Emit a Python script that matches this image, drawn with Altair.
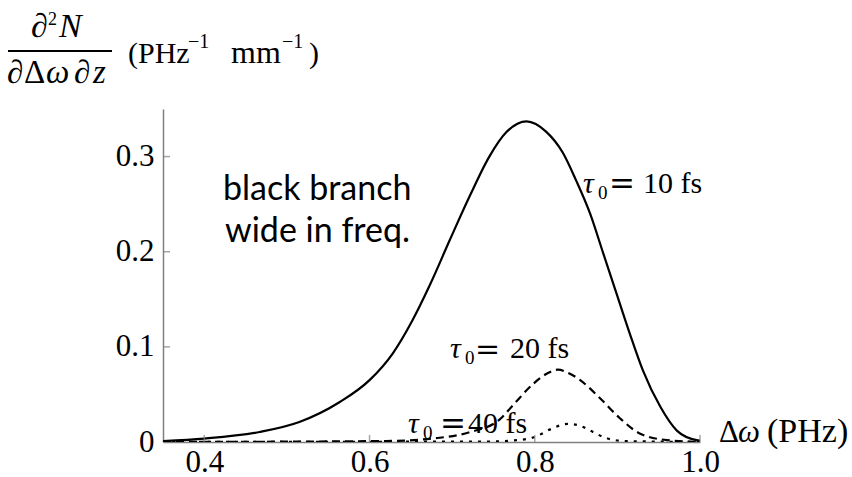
import altair as alt
import pandas as pd

# Spectral density d2N/(dΔω dz) versus Δω for three pulse durations
dw_10fs = [0.35, 0.40, 0.467, 0.515, 0.564, 0.60, 0.628, 0.652, 0.673, 0.697, 0.721,
           0.745, 0.766, 0.790, 0.814, 0.834, 0.850, 0.867, 0.883, 0.899, 0.915,
           0.931, 0.952, 0.972, 0.996, 1.0]
val_10fs = [0.0010, 0.0036, 0.0105, 0.021, 0.042, 0.065, 0.093, 0.128, 0.165, 0.212, 0.258,
            0.300, 0.326, 0.337, 0.326, 0.304, 0.275, 0.240, 0.198, 0.156, 0.114,
            0.075, 0.037, 0.012, 0.002, 0.0015]

dw_20fs = [0.35, 0.62, 0.68, 0.72, 0.758, 0.774, 0.798, 0.815, 0.828, 0.842, 0.855,
           0.879, 0.903, 0.927, 0.96, 1.0]
val_20fs = [0.0, 0.001, 0.004, 0.010, 0.024, 0.039, 0.061, 0.072, 0.076, 0.072, 0.065,
            0.046, 0.025, 0.009, 0.002, 0.0]

dw_40fs = [0.35, 0.74, 0.78, 0.802, 0.818, 0.840, 0.855, 0.867, 0.887, 0.91, 1.0]
val_40fs = [0.0, 0.0005, 0.002, 0.006, 0.013, 0.019, 0.017, 0.012, 0.004, 0.001, 0.0]

x_ticks = [0.4, 0.6, 0.8, 1.0]
y_ticks = [0.0, 0.1, 0.2, 0.3]

SERIF = "Liberation Serif"
WIDE_SERIF = "DejaVu Serif"
SANS = "Lato"
AXIS_GREY = "#808080"

LEFT, TOP = 163, 109
W, H = 537, 333

xs = alt.Scale(domain=[0.35, 1.0], nice=False, zero=False)
ys = alt.Scale(domain=[0, 0.35], nice=False)

x_axis = alt.Axis(values=x_ticks, format=".1f", tickSize=0, domainColor=AXIS_GREY,
                  domainWidth=1.5, labelFont=SERIF, labelFontSize=31, labelColor="black",
                  labelPadding=5, grid=False, title=None, labelFlush=False,
                  labelOverlap=False)
y_axis = alt.Axis(values=y_ticks, tickSize=0, domainColor=AXIS_GREY, domainWidth=1.5,
                  labelExpr="datum.value == 0 ? '0' : format(datum.value, '.1f')",
                  labelFont=SERIF, labelFontSize=31, labelColor="black", labelPadding=9,
                  grid=False, title=None, labelFlush=False, labelOverlap=False)


def curve(dw, val, dash=None, with_axes=False):
    df = pd.DataFrame({"dw": dw, "val": val})
    props = dict(color="black", strokeWidth=2.2, interpolate="monotone", clip=True)
    if dash:
        props["strokeDash"] = dash
    return alt.Chart(df).mark_line(**props).encode(
        x=alt.X("dw:Q", scale=xs, axis=x_axis if with_axes else None),
        y=alt.Y("val:Q", scale=ys, axis=y_axis if with_axes else None),
    )


solid = curve(dw_10fs, val_10fs, with_axes=True)
dashed = curve(dw_20fs, val_20fs, dash=[8, 5])
dotted = curve(dw_40fs, val_40fs, dash=[3, 6])

# inward-pointing ticks
xt = alt.Chart(pd.DataFrame({"t": x_ticks, "z": [0.0] * len(x_ticks)})).mark_tick(
    orient="vertical", size=7, thickness=1.5, color=AXIS_GREY, yOffset=-3.5
).encode(x=alt.X("t:Q", scale=xs, axis=None), y=alt.Y("z:Q", scale=ys, axis=None))
yt = alt.Chart(pd.DataFrame({"t": y_ticks[1:], "z": [0.35] * 3})).mark_tick(
    orient="horizontal", size=7, thickness=1.5, color=AXIS_GREY, xOffset=3.5
).encode(x=alt.X("z:Q", scale=xs, axis=None), y=alt.Y("t:Q", scale=ys, axis=None))

# text pieces: (text, left x, baseline y, font size) in page pixels
upright = [
    ("∂", 31, 37, 34), ("2", 48, 25, 18),
    ("∂", 7, 83, 33), ("Δ", 24, 83, 33), ("∂", 74, 83, 33),
    ("(PHz", 128, 63, 30), ("−1", 188, 48, 20), ("mm", 231, 63, 32),
    ("−1", 282, 48, 20), (")", 309, 63, 30),
    ("Δ", 719, 442, 31), ("(PHz)", 767, 442, 34),
    ("0", 598, 199, 19), ("10 fs", 643, 193, 30),
    ("0", 465, 364, 19), ("20 fs", 510, 358, 30),
    ("0", 423, 439, 19), ("40 fs", 468, 433, 30),
]
equals = [
    ("=", 609, 194, 31), ("=", 475, 359, 30), ("=", 440, 434, 31),
]
italic = [
    ("N", 59, 37, 34), ("ω", 46, 83, 33), ("z", 93, 83, 33), ("ω", 738, 442, 31),
    ("τ", 583, 193, 30), ("τ", 450, 358, 30), ("τ", 408, 433, 30),
]
sans = [
    ("black branch", 223, 200, 34), ("wide in freq.", 225, 242, 34),
]


def text_layer(rows, font, style="normal"):
    df = pd.DataFrame(rows, columns=["txt", "px", "py", "fs"])
    df["px"] = df["px"] - LEFT
    df["py"] = df["py"] - TOP
    return alt.Chart(df).mark_text(
        font=font, fontStyle=style, align="left", baseline="alphabetic", color="black"
    ).encode(
        x=alt.X("px:Q", scale=None, axis=None),
        y=alt.Y("py:Q", scale=None, axis=None),
        text="txt:N",
        size=alt.Size("fs:Q", scale=None, legend=None),
    )


frac_bar = alt.Chart(pd.DataFrame({"k": [0]})).mark_rule(
    color="black", strokeWidth=2
).encode(x=alt.value(8 - LEFT), x2=alt.value(112 - LEFT), y=alt.value(51 - TOP))

chart = alt.layer(
    solid, dashed, dotted, xt, yt,
    text_layer(upright, SERIF), text_layer(equals, WIDE_SERIF),
    text_layer(italic, SERIF, "italic"),
    text_layer(sans, SANS), frac_bar,
).resolve_scale(x="independent", y="independent").properties(
    width=W, height=H,
    autosize=alt.AutoSizeParams(type="none"),
    padding={"left": LEFT, "top": TOP, "right": 852 - LEFT - W, "bottom": 477 - TOP - H},
    background="white",
).configure_view(strokeWidth=0)

chart.save("out.html", embed_options={"renderer": "svg", "actions": False})
